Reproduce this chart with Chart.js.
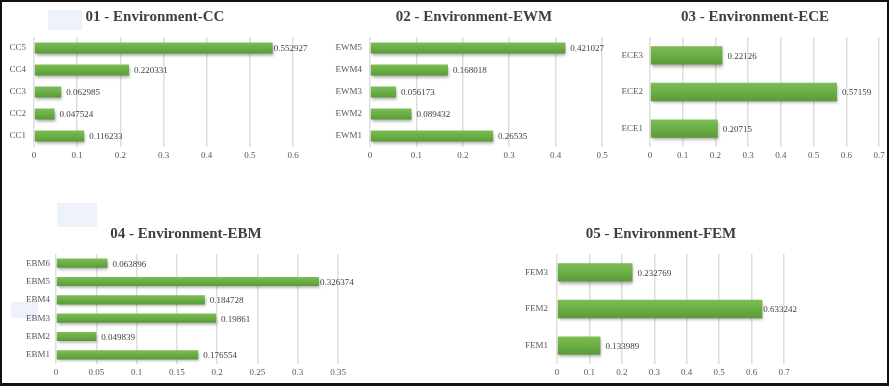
<!DOCTYPE html>
<html>
<head>
<meta charset="utf-8">
<script src="https://cdn.jsdelivr.net/npm/chart.js@4.4.1/dist/chart.umd.min.js"></script>
<style>
  html, body { margin: 0; padding: 0; background: #fff; }
  body { width: 890px; height: 387px; position: relative; overflow: hidden; }
  .frame { position: absolute; left: 0; top: 0; width: 885px; height: 381px;
           border: 2px solid #111; border-bottom-width: 3px; border-right-width: 2px; }
  .mark { position: absolute; background: #eef2fa; }
  canvas { position: absolute; }
</style>
</head>
<body>
<div class="frame"></div>
<div class="mark" style="left:48px;top:10px;width:34px;height:20px"></div>
<div class="mark" style="left:57px;top:203px;width:40px;height:24px"></div>
<div class="mark" style="left:11px;top:302px;width:27px;height:16px"></div>

<canvas id="c1" width="310" height="167" style="left:0px;top:0px"></canvas>
<canvas id="c2" width="288" height="167" style="left:330px;top:0px"></canvas>
<canvas id="c3" width="274" height="167" style="left:615px;top:0px"></canvas>
<canvas id="c4" width="355" height="175" style="left:0px;top:210px"></canvas>
<canvas id="c5" width="285" height="175" style="left:515px;top:210px"></canvas>

<script>
// data
const ccLabels = ['CC1', 'CC2', 'CC3', 'CC4', 'CC5'];
const ccValues = [0.116233, 0.047524, 0.062985, 0.220331, 0.552927];

const ewmLabels = ['EWM1', 'EWM2', 'EWM3', 'EWM4', 'EWM5'];
const ewmValues = [0.26535, 0.089432, 0.056173, 0.168018, 0.421027];

const eceLabels = ['ECE1', 'ECE2', 'ECE3'];
const eceValues = [0.20715, 0.57159, 0.22126];

const ebmLabels = ['EBM1', 'EBM2', 'EBM3', 'EBM4', 'EBM5', 'EBM6'];
const ebmValues = [0.176554, 0.049839, 0.19861, 0.184728, 0.326374, 0.063896];

const femLabels = ['FEM1', 'FEM2', 'FEM3'];
const femValues = [0.133989, 0.633242, 0.232769];

const SERIF = "'Liberation Serif', 'Times New Roman', serif";

// shadow under the bars
const barShadow = {
  id: 'barShadow',
  beforeDatasetsDraw(chart) {
    const ctx = chart.ctx;
    ctx.save();
    ctx.shadowColor = 'rgba(0,0,0,0.35)';
    ctx.shadowBlur = 3;
    ctx.shadowOffsetX = 1;
    ctx.shadowOffsetY = 2;
  },
  afterDatasetsDraw(chart) {
    chart.ctx.restore();
  }
};

// move the title so it sits where the original one does
const titleShift = {
  id: 'titleShift',
  afterLayout(chart, args, o) {
    const t = chart.titleBlock;
    if (!t || o.center == null) return;
    const w = t.right - t.left;
    t.left = o.center - w / 2;
    t.right = o.center + w / 2;
  }
};

// value text at the end of each bar
const valueLabels = {
  id: 'valueLabels',
  afterDatasetsDraw(chart) {
    const ctx = chart.ctx;
    const ds = chart.data.datasets[0];
    const meta = chart.getDatasetMeta(0);
    ctx.save();
    ctx.font = '9px ' + SERIF;
    ctx.fillStyle = '#404040';
    ctx.textBaseline = 'middle';
    ctx.textAlign = 'left';
    meta.data.forEach((bar, i) => {
      const txt = String(ds.data[i]);
      const w = ctx.measureText(txt).width;
      let x = bar.x + 5;
      const lim = chart.chartArea.right + 13 - w;
      if (x > lim) x = Math.max(bar.x + 1, lim);
      ctx.fillText(txt, x, bar.y + 1);
    });
    ctx.restore();
  }
};

function barFill(c) {
  const ch = c.chart;
  const y = ch.scales && ch.scales.y;
  if (!y) return '#6aab44';
  const yc = y.getPixelForValue(c.dataIndex);
  const half = Math.abs(y.getPixelForValue(1) - y.getPixelForValue(0)) / 4;
  if (!isFinite(yc) || !isFinite(half) || half === 0) return '#6aab44';
  const g = ch.ctx.createLinearGradient(0, yc - half, 0, yc + half);
  g.addColorStop(0, '#7dbd56');
  g.addColorStop(0.5, '#6aae45');
  g.addColorStop(1, '#5a9a38');
  return g;
}

function makeChart(id, title, labels, values, opt) {
  return new Chart(document.getElementById(id), {
    type: 'bar',
    data: {
      labels: labels,
      datasets: [{
        data: values,
        backgroundColor: barFill,
        borderWidth: 0,
        categoryPercentage: 1,
        barPercentage: 0.5
      }]
    },
    options: {
      indexAxis: 'y',
      responsive: false,
      animation: false,
      events: [],
      layout: { padding: { left: 0, right: opt.pr, top: 0, bottom: 0 } },
      plugins: {
        legend: { display: false },
        tooltip: { enabled: false },
        titleShift: { center: opt.tc },
        title: {
          display: true,
          text: title,
          color: '#404040',
          font: { family: SERIF, size: 15, weight: 'bold' },
          padding: { top: opt.tt, bottom: 11 }
        }
      },
      scales: {
        x: {
          min: 0,
          max: opt.max,
          afterFit: s => { s.height = opt.xh; },
          ticks: {
            stepSize: opt.step,
            color: '#595959',
            padding: 3,
            maxRotation: 0,
            font: { family: SERIF, size: 9 },
            callback: v => String(Math.round(v * 100) / 100)
          },
          grid: { color: '#dedede', lineWidth: 1.5, drawTicks: false },
          border: { display: false }
        },
        y: {
          reverse: true,
          afterFit: s => { s.width = opt.yw; },
          ticks: {
            color: '#595959',
            padding: opt.lp,
            font: { family: SERIF, size: 9 }
          },
          grid: { display: false, drawTicks: false },
          border: { display: false }
        }
      }
    },
    plugins: [titleShift, barShadow, valueLabels]
  });
}

makeChart('c1', '01 - Environment-CC', ccLabels, ccValues,
  { pr: 17, yw: 34, lp: 8, tc: 155, tt: 8, xh: 20, max: 0.6, step: 0.1 });
makeChart('c2', '02 - Environment-EWM', ewmLabels, ewmValues,
  { pr: 16, yw: 40, lp: 8, tc: 144, tt: 8, xh: 20, max: 0.5, step: 0.1 });
makeChart('c3', '03 - Environment-ECE', eceLabels, eceValues,
  { pr: 10, yw: 35, lp: 7, tc: 140, tt: 8, xh: 20, max: 0.7, step: 0.1 });
makeChart('c4', '04 - Environment-EBM', ebmLabels, ebmValues,
  { pr: 17, yw: 56, lp: 6, tc: 186, tt: 15, xh: 21, max: 0.35, step: 0.05 });
makeChart('c5', '05 - Environment-FEM', femLabels, femValues,
  { pr: 16, yw: 42, lp: 9, tc: 146, tt: 15, xh: 21, max: 0.7, step: 0.1 });
</script>
</body>
</html>
